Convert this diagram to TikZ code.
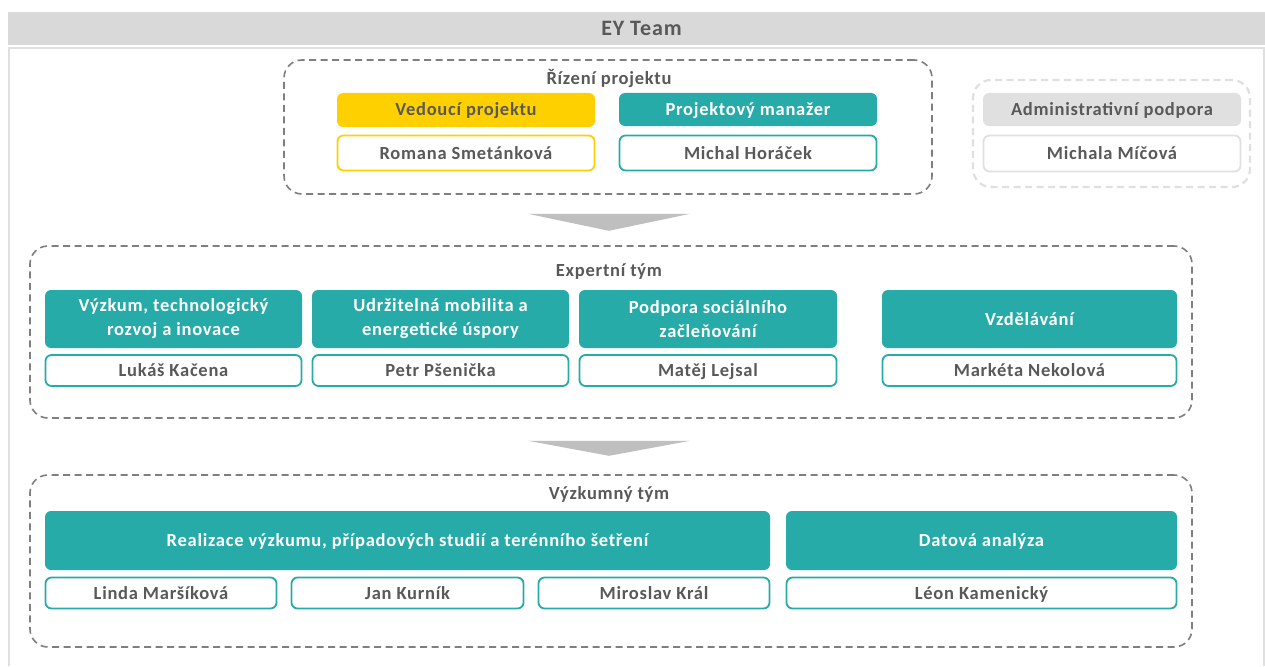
\documentclass[tikz,border=0pt]{standalone}
\usepackage{fontspec}
\setmainfont{Carlito}[LetterSpace=4]
\usetikzlibrary{calc}
\definecolor{teal1}{HTML}{27ABA9}
\definecolor{gold1}{HTML}{FFD000}
\definecolor{txt}{HTML}{595959}
\definecolor{lgray}{HTML}{D9D9D9}
\definecolor{dgray}{HTML}{7F7F7F}
\definecolor{agray}{HTML}{E0E0E0}
\definecolor{arrgray}{HTML}{BFBFBF}
\tikzset{
  x=1pt, y=-1pt,
  base0/.style={rounded corners=6pt, inner sep=0pt, align=center, font=\fontsize{18.5}{24}\selectfont\bfseries, text=txt},
  base/.style={base0, text height=12pt, text depth=0pt},
  headt/.style={base, fill=teal1, text=white},
  headtt/.style={base0, fill=teal1, text=white},
  heady/.style={base, fill=gold1},
  headg/.style={base, fill=agray},
  namet/.style={base, draw=teal1, line width=1.8pt, fill=white},
  namey/.style={base, draw=gold1, line width=1.8pt, fill=white},
  nameg/.style={base, draw=agray, line width=1.8pt, fill=white},
  grp/.style={draw=dgray, line width=1.6pt, dash pattern=on 7pt off 4.5pt, rounded corners=18pt, inner sep=0pt},
  grpl/.style={grp, draw=agray, line width=2.2pt},
  ttl/.style={font=\fontsize{18.5}{22}\selectfont\bfseries, text=txt, inner sep=0pt, text height=12pt, text depth=0pt},
}
\begin{document}
\begin{tikzpicture}
\useasboundingbox (0,0) rectangle (1265,666);
\fill[white] (0,0) rectangle (1265,666);
% banner
\node[fill=lgray, minimum width=1257pt, minimum height=33pt, inner sep=0pt] (banner) at (636.5,28.5) {};
\node[font=\fontsize{22}{24}\selectfont\bfseries, text=txt, inner sep=0pt, text height=14pt, text depth=0pt] (bannert) at (641.5,28.5) {EY Team};
% outer frame
\draw[agray, line width=2pt] (8.5,666) -- (8.5,48) -- (1263.5,48) -- (1263.5,666);
% groups
\node[grp, minimum width=648pt, minimum height=134pt] (g1) at (608,127) {};
\node[grpl, minimum width=277pt, minimum height=107pt] (g2) at (1111.5,133.5) {};
\node[grp, minimum width=1162pt, minimum height=172pt] (g3) at (611,332) {};
\node[grp, minimum width=1162pt, minimum height=172pt] (g4) at (611,561) {};
\node[ttl] (t1) at (609,79) {Řízení projektu};
\node[ttl] (t3) at (609,270) {Expertní tým};
\node[ttl] (t4) at (609,493) {Výzkumný tým};
% project management
\node[heady, minimum width=258pt, minimum height=34pt] (vp) at (466,110) {Vedoucí projektu};
\node[namey, minimum width=257pt, minimum height=35pt] (rs) at (466,153) {Romana Smetánková};
\node[headt, minimum width=258pt, minimum height=33pt] (pm) at (748,109.5) {Projektový manažer};
\node[namet, minimum width=257pt, minimum height=35pt] (mh) at (748,153) {Michal Horáček};
\node[headg, minimum width=258pt, minimum height=33pt] (ap) at (1112,109.5) {Administrativní podpora};
\node[nameg, minimum width=257pt, minimum height=36pt] (mm) at (1112,153.5) {Michala Míčová};
% arrow 1
\fill[arrgray] ($(g1.south)+(-80,19)$) -- ($(g1.south)+(82,19)$) -- ($(g1.south)+(1,36)$) -- cycle;
% experts
\node[headtt, minimum width=257pt, minimum height=58pt] (e1) at (173.5,319) {Výzkum, technologický\\rozvoj a inovace};
\node[headtt, minimum width=257pt, minimum height=58pt] (e2) at (440.5,319) {Udržitelná mobilita a\\energetické úspory};
\node[headtt, minimum width=258pt, minimum height=58pt] (e3) at (708,319) {Podpora sociálního\\začleňování};
\node[headt, minimum width=295pt, minimum height=58pt] (e4) at (1029.5,319) {Vzdělávání};
\node[namet, minimum width=256pt, minimum height=31pt] (n1) at (173.5,370.5) {Lukáš Kačena};
\node[namet, minimum width=256pt, minimum height=31pt] (n2) at (440.5,370.5) {Petr Pšenička};
\node[namet, minimum width=257pt, minimum height=31pt] (n3) at (708,370.5) {Matěj Lejsal};
\node[namet, minimum width=294pt, minimum height=31pt] (n4) at (1029.5,370.5) {Markéta Nekolová};
% arrow 2
\fill[arrgray] ($(g3.south)+(-83,22)$) -- ($(g3.south)+(79,22)$) -- ($(g3.south)+(-2,37)$) -- cycle;
% research
\node[headt, minimum width=725pt, minimum height=59pt] (r1) at (407.5,540.5) {Realizace výzkumu, případových studií a terénního šetření};
\node[headt, minimum width=391pt, minimum height=59pt] (r2) at (981.5,540.5) {Datová analýza};
\node[namet, minimum width=231pt, minimum height=31pt] (m1) at (161,593) {Linda Maršíková};
\node[namet, minimum width=232pt, minimum height=31pt] (m2) at (407.5,593) {Jan Kurník};
\node[namet, minimum width=231pt, minimum height=31pt] (m3) at (654,593) {Miroslav Král};
\node[namet, minimum width=390pt, minimum height=31pt] (m4) at (981.5,593) {Léon Kamenický};
\end{tikzpicture}
\end{document}
